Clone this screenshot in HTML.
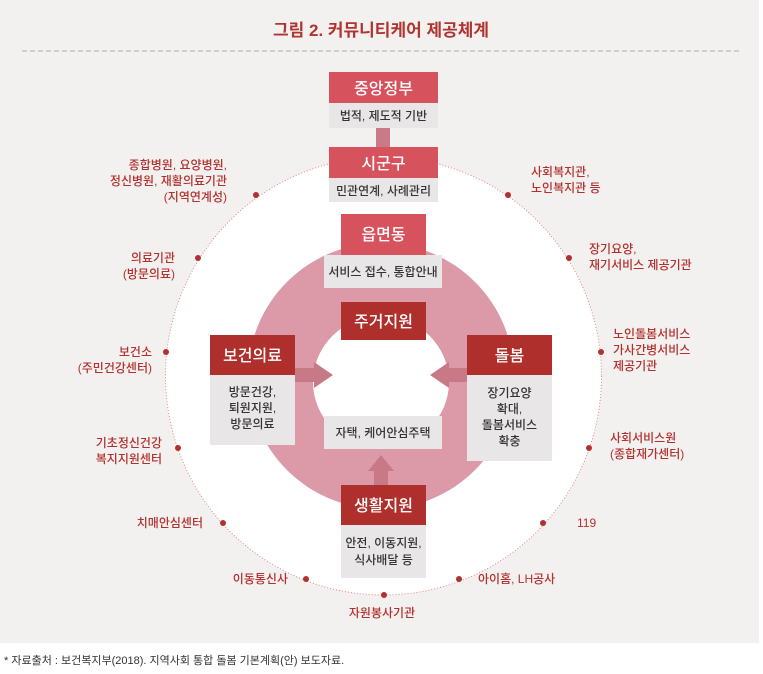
<!DOCTYPE html>
<html><head><meta charset="utf-8"><style>
html,body{margin:0;padding:0;background:#fff;}
svg{display:block;font-family:"Liberation Sans","Noto Sans CJK KR",sans-serif;}
</style></head><body>
<svg width="763" height="674" viewBox="0 0 763 674" xmlns="http://www.w3.org/2000/svg">
<rect x="0" y="0" width="759" height="643" fill="#f3f1f0"/>
<text x="381" y="36" text-anchor="middle" font-size="17" font-weight="bold" fill="#b03530">그림 2. 커뮤니티케어 제공체계</text>
<line x1="22" y1="51" x2="742" y2="51" stroke="#bbb" stroke-width="1.2" stroke-dasharray="5,3"/>
<ellipse cx="383.5" cy="376" rx="218" ry="219" fill="#fff" stroke="#d88" stroke-width="1" stroke-dasharray="1,2"/>
<circle cx="381" cy="376" r="133" fill="#dc9aa8"/>
<ellipse cx="381" cy="382" rx="68" ry="66" fill="#fff"/>
<g fill="#b2302d">
<circle cx="256" cy="195" r="3"/><circle cx="198" cy="258" r="3"/><circle cx="166" cy="352" r="3"/>
<circle cx="178" cy="448" r="3"/><circle cx="223" cy="523" r="3"/><circle cx="306" cy="579" r="3"/>
<circle cx="384" cy="595" r="3"/><circle cx="459" cy="579" r="3"/><circle cx="543" cy="523" r="3"/>
<circle cx="589" cy="448" r="3"/><circle cx="601" cy="352" r="3"/><circle cx="569" cy="258" r="3"/>
<circle cx="508" cy="195" r="3"/>
</g>
<g font-size="12" fill="#b2302d" font-weight="500">
<g text-anchor="end">
<text x="227" y="169">종합병원, 요양병원,</text>
<text x="227" y="185">정신병원, 재활의료기관</text>
<text x="227" y="201">(지역연계성)</text>
<text x="175" y="262">의료기관</text>
<text x="175" y="278">(방문의료)</text>
<text x="152" y="356">보건소</text>
<text x="152" y="372">(주민건강센터)</text>
<text x="162" y="447">기초정신건강</text>
<text x="162" y="463">복지지원센터</text>
<text x="203" y="527">치매안심센터</text>
<text x="288" y="583">이동통신사</text>
</g>
<text x="382" y="617" text-anchor="middle">자원봉사기관</text>
<text x="478" y="583">아이홈, LH공사</text>
<text x="577" y="527">119</text>
<text x="610" y="442">사회서비스원</text>
<text x="610" y="458">(종합재가센터)</text>
<text x="613" y="338">노인돌봄서비스</text>
<text x="613" y="354">가사간병서비스</text>
<text x="613" y="370">제공기관</text>
<text x="589" y="253">장기요양,</text>
<text x="589" y="269">재기서비스 제공기관</text>
<text x="531" y="176">사회복지관,</text>
<text x="531" y="192">노인복지관 등</text>
</g>
<g fill="#c77a86">
<rect x="295" y="368" width="20" height="14"/><polygon points="314,362 314,388 333,375"/>
<rect x="448" y="368" width="20" height="14"/><polygon points="449,362 449,388 430,375"/>
<rect x="374" y="470" width="14" height="16"/><polygon points="368,471 394,471 381,455"/>
<rect x="376" y="128" width="14" height="19" fill="#c97a86"/>
</g>
<g font-size="12" fill="#333" text-anchor="middle" font-weight="500">
<rect x="329" y="72" width="109" height="31" fill="#d6525d"/>
<rect x="329" y="103" width="109" height="25" fill="#e8e6e6"/>
<text x="383.5" y="94" font-size="16" fill="#fff">중앙정부</text>
<text x="383.5" y="120">법적, 제도적 기반</text>

<rect x="329" y="147" width="109" height="31" fill="#d6525d"/>
<rect x="329" y="178" width="109" height="24" fill="#e8e6e6"/>
<text x="383.5" y="169" font-size="16" fill="#fff">시군구</text>
<text x="383.5" y="195">민관연계, 사례관리</text>

<rect x="341" y="214" width="85" height="41" fill="#d6525d"/>
<rect x="324" y="255" width="118" height="33" fill="#e8e6e6"/>
<text x="383.5" y="240" font-size="16" fill="#fff">읍면동</text>
<text x="383" y="276">서비스 접수, 통합안내</text>

<rect x="341" y="302" width="85" height="38" fill="#ae2f2b"/>
<text x="383.5" y="327" font-size="16" fill="#fff">주거지원</text>

<rect x="324" y="416" width="118" height="33" fill="#e8e6e6"/>
<text x="383" y="437">자택, 케어안심주택</text>

<rect x="210" y="335" width="85" height="40" fill="#ae2f2b"/>
<rect x="210" y="375" width="85" height="70" fill="#e8e6e6"/>
<text x="252.5" y="361" font-size="16" fill="#fff">보건의료</text>
<text x="252.5" y="396">방문건강,</text>
<text x="252.5" y="412">퇴원지원,</text>
<text x="252.5" y="428">방문의료</text>

<rect x="467" y="335" width="85" height="40" fill="#ae2f2b"/>
<rect x="467" y="375" width="85" height="86" fill="#e8e6e6"/>
<text x="509.5" y="361" font-size="16" fill="#fff">돌봄</text>
<text x="509.5" y="397">장기요양</text>
<text x="509.5" y="413">확대,</text>
<text x="509.5" y="429">돌봄서비스</text>
<text x="509.5" y="445">확충</text>

<rect x="341" y="485" width="85" height="40" fill="#ae2f2b"/>
<rect x="341" y="525" width="85" height="53" fill="#e8e6e6"/>
<text x="383.5" y="511" font-size="16" fill="#fff">생활지원</text>
<text x="383.5" y="547">안전, 이동지원,</text>
<text x="383.5" y="564">식사배달 등</text>
</g>
<text x="4" y="664" font-size="11" fill="#333">* 자료출처 : 보건복지부(2018). 지역사회 통합 돌봄 기본계획(안) 보도자료.</text>
</svg>
</body></html>
